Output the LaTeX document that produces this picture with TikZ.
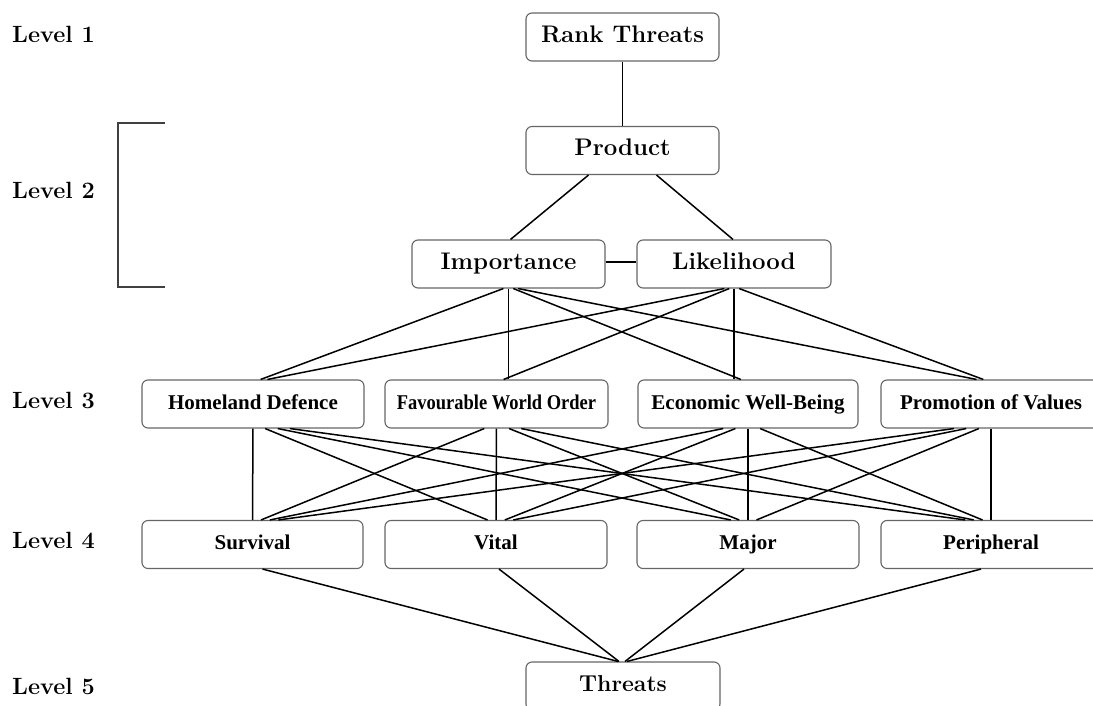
\documentclass[tikz,border=0pt]{standalone}
\usepackage{fontspec}
\newfontfamily\boxfont{Liberation Serif}
\usetikzlibrary{calc}
\tikzset{
  box/.style={draw=black!60, line width=1.1pt, rounded corners=6pt, fill=white,
    minimum height=48pt, inner sep=0pt, text height=16pt, text depth=5pt},
  bigbox/.style={box, font=\fontsize{24}{28}\selectfont\bfseries},
  smallbox/.style={box, text height=14pt, text depth=4pt,
    font=\boxfont\fontsize{21}{25}\selectfont\bfseries},
  levellabel/.style={anchor=base west, inner sep=0pt,
    font=\fontsize{23.5}{27}\selectfont\bfseries},
  conn/.style={draw=black, line width=1.5pt},
  bracketline/.style={draw=black!75, line width=1.6pt}
}
\begin{document}
\begin{tikzpicture}[x=1pt, y=-1pt]
\useasboundingbox (0,0) rectangle (1093,706);

% level labels
\node[levellabel] (l1) at (12,43) {Level 1};
\node[levellabel] (l2) at (12,199) {Level 2};
\node[levellabel] (l3) at (12,408) {Level 3};
\node[levellabel] (l4) at (12,548) {Level 4};
\node[levellabel] (l5) at (12,694) {Level 5};

% bracket grouping level 2
\coordinate (bt) at (165,123);
\coordinate (bb) at (165,287);
\draw[bracketline] (bt) -- ++(-47,0) |- (bb);

% level 1 and 2
\node[bigbox, minimum width=193pt] (rank) at (622.5,37) {Rank Threats};
\node[bigbox, minimum width=193pt] (prod) at (622.5,150.5) {Product};
\node[bigbox, minimum width=193pt] (imp) at (508.5,264) {Importance};
\node[bigbox, minimum width=194pt] (lik) at (734,264) {Likelihood};

% level 3
\node[smallbox, minimum width=222pt] (hd) at (253,404) {Homeland Defence};
\node[smallbox, minimum width=223pt] (fwo) at (496.5,404) {\scalebox{0.88}[1]{Favourable World Order}};
\node[smallbox, minimum width=220pt] (ewb) at (748,404) {Economic Well-Being};
\node[smallbox, minimum width=220pt] (pov) at (991,404) {Promotion of Values};

% level 4
\node[smallbox, minimum width=221pt] (sur) at (252.5,544.5) {Survival};
\node[smallbox, minimum width=222pt] (vit) at (496,544.5) {Vital};
\node[smallbox, minimum width=222pt] (maj) at (748,544.5) {Major};
\node[smallbox, minimum width=220pt] (per) at (991,544.5) {Peripheral};

% level 5
\node[bigbox, minimum width=194pt, font=\fontsize{23}{27}\selectfont\bfseries] (thr) at (623,686) {Threats};

% connectors, levels 1-2
\draw[conn] (rank.south) -- (prod.north);
\draw[conn] ($(prod.south)+(-34,0)$) -- ($(imp.north)+(2,0)$);
\draw[conn] ($(prod.south)+(34,0)$) -- ($(lik.north)+(-1,0)$);
\draw[conn] ($(imp.east)+(0,-2)$) -- ($(lik.west)+(0,-2)$);

% connectors, level 2 to level 3
\draw[conn] (imp.south) -- (imp.south |- fwo.north);
\draw[conn] (lik.south) -- (lik.south |- ewb.north);
\foreach \p/\px in {imp/508.5, lik/734}{
  \foreach \c/\cx in {hd/253, fwo/496.5, ewb/748, pov/991}{
    \pgfmathsetmacro\dd{abs(\cx-\px)}
    \ifdim\dd pt>40pt
      \pgfmathsetmacro\da{0.02*(\cx-\px)}
      \pgfmathsetmacro\db{0.03*(\px-\cx)}
      \draw[conn] ($(\p.south)+(\da,0)$) -- ($(\c.north)+(\db,0)$);
    \fi
  }
}

% connectors, level 3 to level 4
\foreach \a/\ax in {hd/253, fwo/496.5, ewb/748, pov/991}{
  \foreach \b/\bx in {sur/252.5, vit/496, maj/748, per/991}{
    \pgfmathsetmacro\da{0.05*(\bx-\ax)}
    \pgfmathsetmacro\db{0.035*(\ax-\bx)}
    \draw[conn] ($(\a.south)+(\da,0)$) -- ($(\b.north)+(\db,0)$);
  }
}

% connectors, level 4 to level 5
\draw[conn] ($(sur.south)+(10,0)$) -- ($(thr.north)+(-5,0)$);
\draw[conn] ($(vit.south)+(3,0)$) -- ($(thr.north)+(-4,0)$);
\draw[conn] ($(maj.south)+(-4,0)$) -- ($(thr.north)+(2,0)$);
\draw[conn] ($(per.south)+(-10,0)$) -- ($(thr.north)+(4,0)$);
\end{tikzpicture}
\end{document}
